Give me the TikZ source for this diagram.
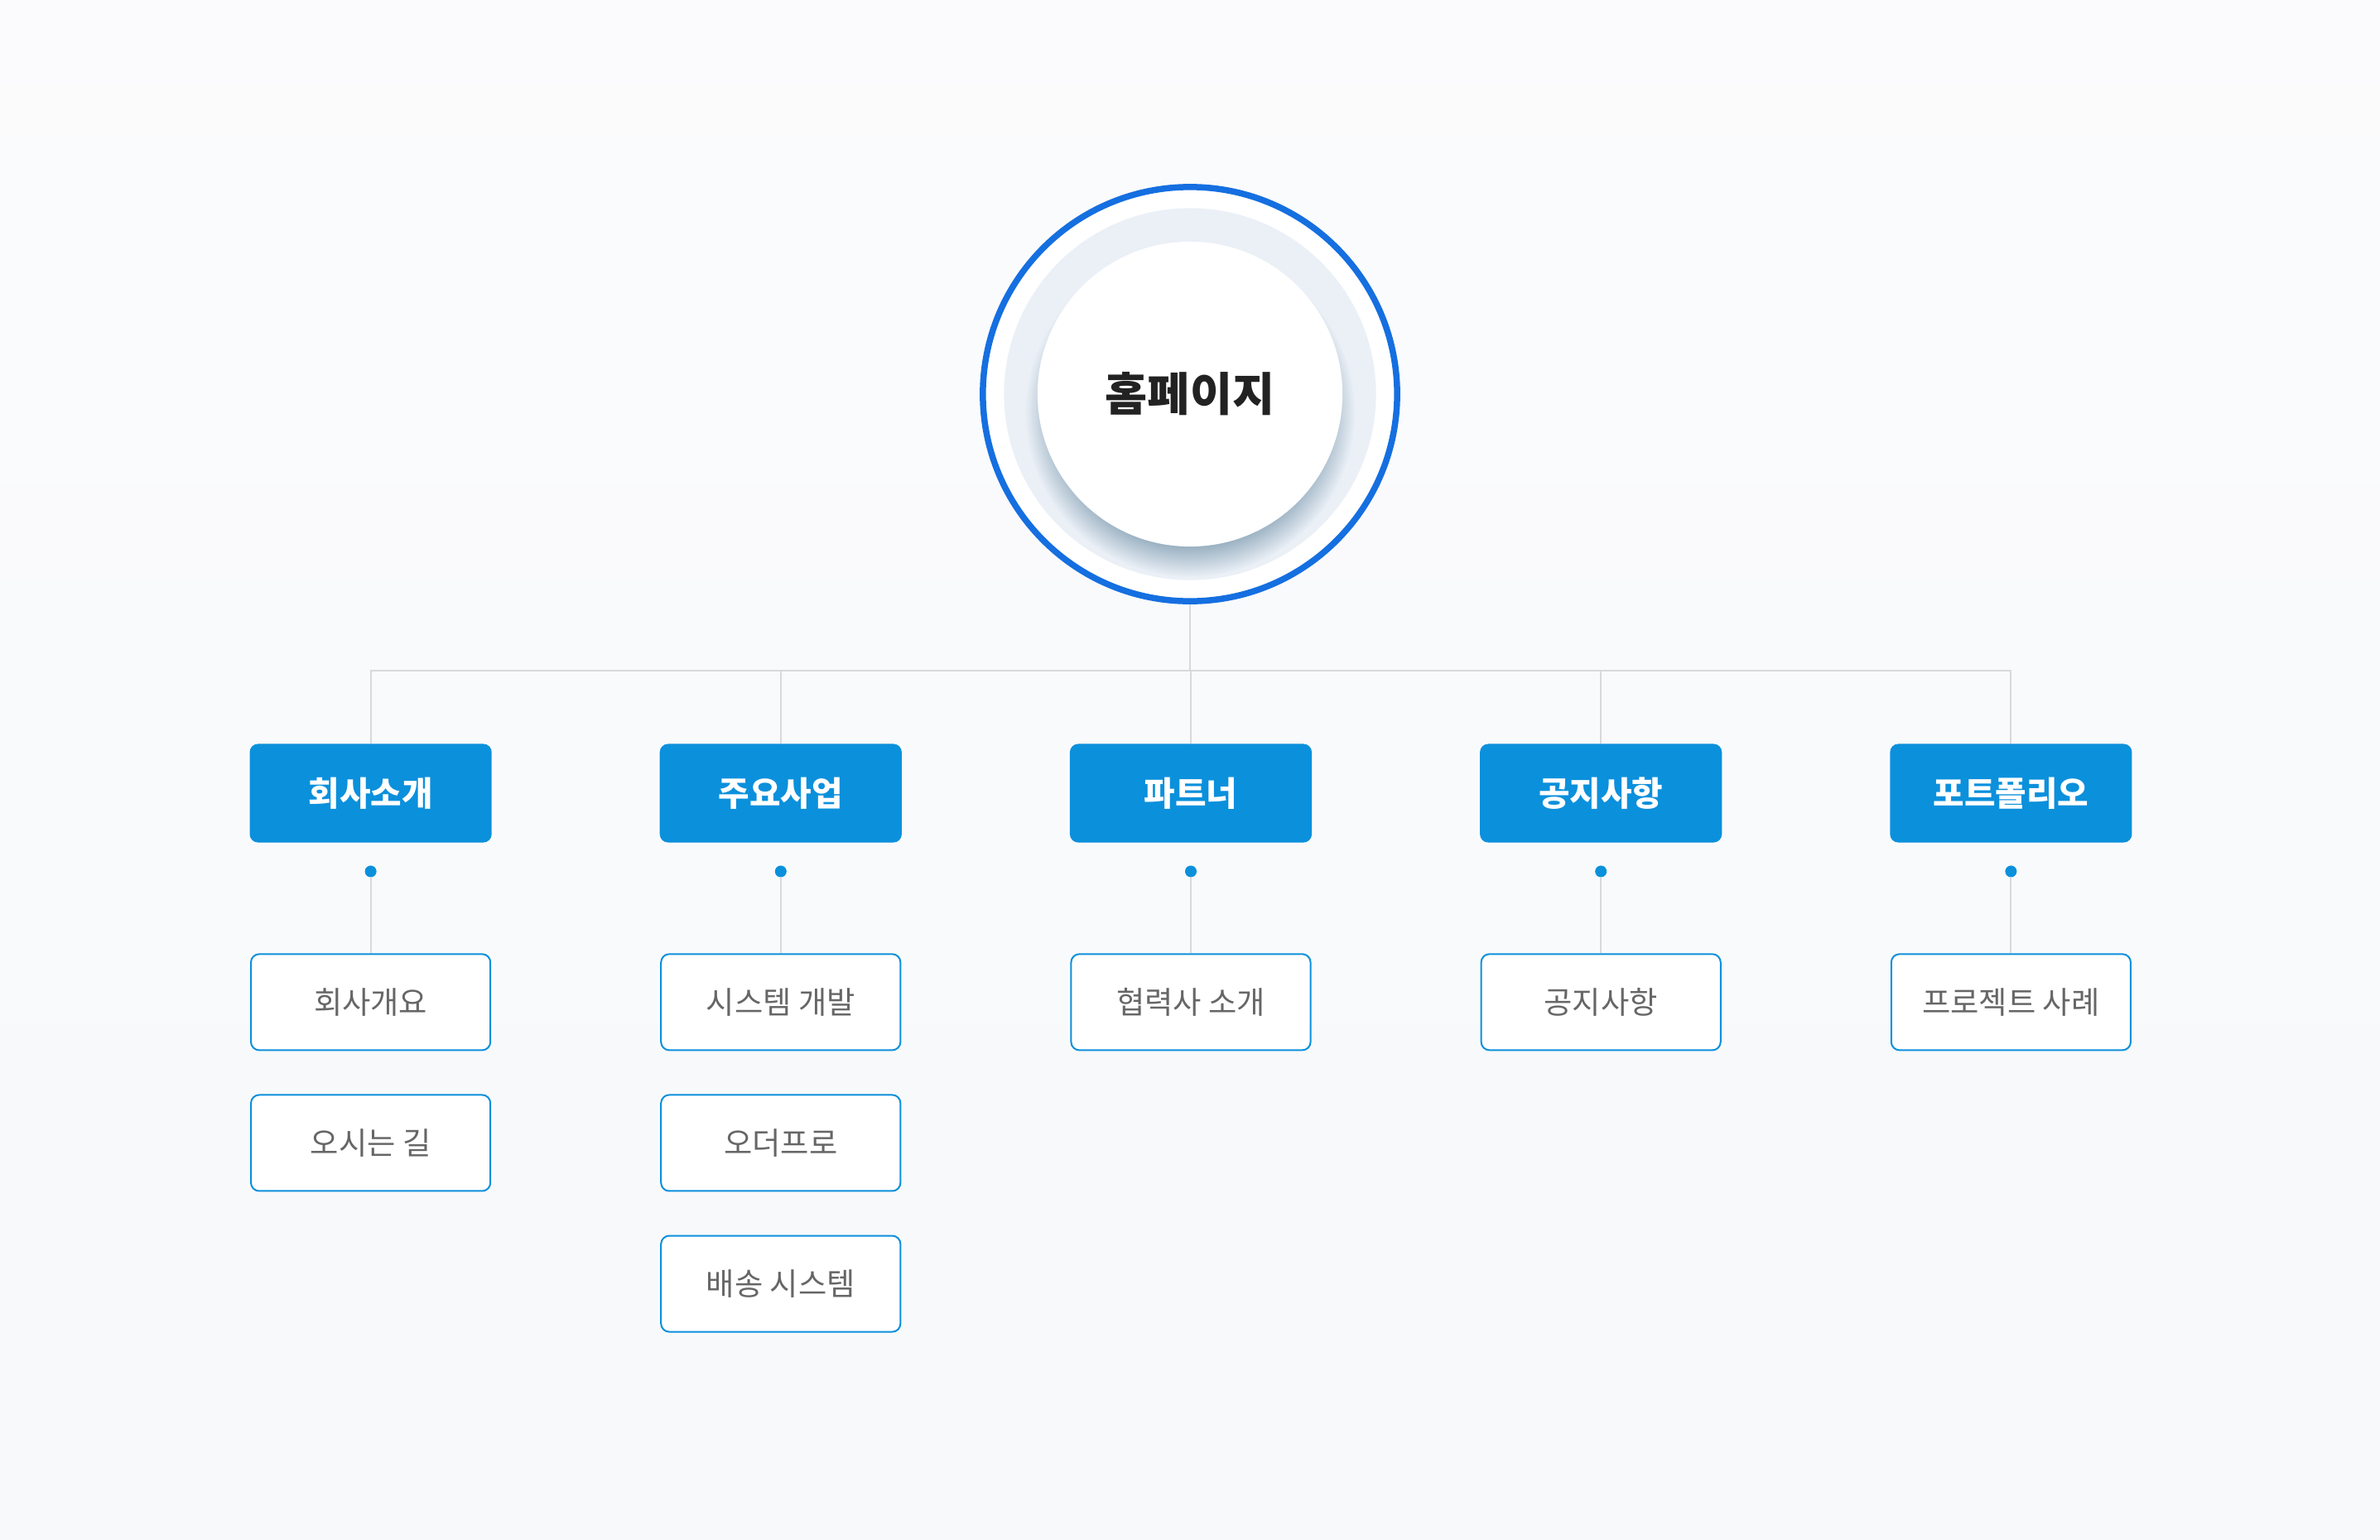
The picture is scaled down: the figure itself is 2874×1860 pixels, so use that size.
\documentclass[tikz,border=0pt]{standalone}
\usepackage{fontspec}
\setmainfont{Noto Sans CJK KR}
\usepackage{tikz}
\usetikzlibrary {
  positioning,
  shadows,
  fadings,
}
\definecolor{pagebg}{HTML}{F8F9FB}
\definecolor{ringblue}{HTML}{156FE0}
\definecolor{haloblue}{HTML}{EBF0F7}
\definecolor{menublue}{HTML}{0B90DC}
\definecolor{linegrey}{HTML}{D9D9DC}
\definecolor{titleink}{HTML}{222222}
\definecolor{subink}{HTML}{666666}
\definecolor{shadowblue}{HTML}{7F9CB0}
\tikzset{
  ring/.style = {
    circle,
    draw = ringblue,
    line width = 0.75mm,
    fill = white,
    minimum size = 50mm
  },
  halo/.style = {
    circle,
    fill = haloblue,
    minimum size = 44.9mm
  },
  home/.style = {
    circle,
    fill = white,
    minimum size = 36.8mm,
    inner sep = 0pt,
    text = titleink,
    font = \fontsize{15.8}{18}\selectfont\bfseries,
    circular drop shadow = {shadow xshift=0mm, shadow yshift=-2mm, shadow scale=1.08, fill=shadowblue, opacity=.8, path fading={circle with fuzzy edge 20 percent}}
  },
  menu/.style = {
    rectangle,
    rounded corners = 1mm,
    fill = menublue,
    text = white,
    minimum width = 29.2mm,
    minimum height = 11.9mm,
    font = \fontsize{11.6}{13}\selectfont\bfseries
  },
  page/.style = {
    rectangle,
    rounded corners = 1mm,
    draw = menublue,
    line width = 0.2mm,
    fill = white,
    text = subink,
    minimum width = 28.9mm,
    minimum height = 11.6mm,
    font = \fontsize{10.6}{12}\selectfont
  },
  bulletdot/.style = {
    circle,
    fill = menublue,
    inner sep = 0pt,
    minimum size = 1.4mm
  },
  link/.style = {
    draw = linegrey,
    line width = 0.2mm
  },
}

\begin{document}
\begin{tikzpicture}[x = 0.01cm, y = -0.01cm]
  \shade[top color = white!40!pagebg, bottom color = pagebg!95!haloblue]
    (0,0) rectangle (2874,1860);
  \useasboundingbox (0,0) rectangle (2874,1860);

  % root
  \node[ring] (homering) at (1437,476) {};
  \node[halo] (homehalo) at (homering.center) {};
  \node[home] (home) at (homering.center) {홈페이지};

  % first level
  \node[menu] (partner) at (1438,958) {파트너};
  \node[menu, left = 20.15mm of partner] (business) {주요사업};
  \node[menu, left = 20.15mm of business] (intro) {회사소개};
  \node[menu, right = 20.15mm of partner] (notice) {공지사항};
  \node[menu, right = 20.15mm of notice] (portfolio) {포트폴리오};

  \coordinate (bus) at (1437,810);
  \draw[link] (homering.south) -- (bus);
  \draw[link] (intro.north) |- (bus) -| (portfolio.north);
  \draw[link] (business.north) -- (business.north |- bus);
  \draw[link] (partner.north) -- (partner.north |- bus);
  \draw[link] (notice.north) -- (notice.north |- bus);

  % dots
  \node[bulletdot, below = 2.65mm of intro] (intro-dot) {};
  \node[bulletdot, below = 2.65mm of business] (business-dot) {};
  \node[bulletdot, below = 2.65mm of partner] (partner-dot) {};
  \node[bulletdot, below = 2.65mm of notice] (notice-dot) {};
  \node[bulletdot, below = 2.65mm of portfolio] (portfolio-dot) {};

  % second level
  \node[page, below = 13.3mm of intro] (overview) {회사개요};
  \node[page, below = 5.2mm of overview] (directions) {오시는 길};
  \node[page, below = 13.3mm of business] (sysdev) {시스템 개발};
  \node[page, below = 5.2mm of sysdev] (orderpro) {오더프로};
  \node[page, below = 5.2mm of orderpro] (delivery) {배송 시스템};
  \node[page, below = 13.3mm of partner] (partners) {협력사 소개};
  \node[page, below = 13.3mm of notice] (notices) {공지사항};
  \node[page, below = 13.3mm of portfolio] (cases) {프로젝트 사례};

  \draw[link] (intro-dot) -- (overview);
  \draw[link] (business-dot) -- (sysdev);
  \draw[link] (partner-dot) -- (partners);
  \draw[link] (notice-dot) -- (notices);
  \draw[link] (portfolio-dot) -- (cases);
\end{tikzpicture}
\end{document}
